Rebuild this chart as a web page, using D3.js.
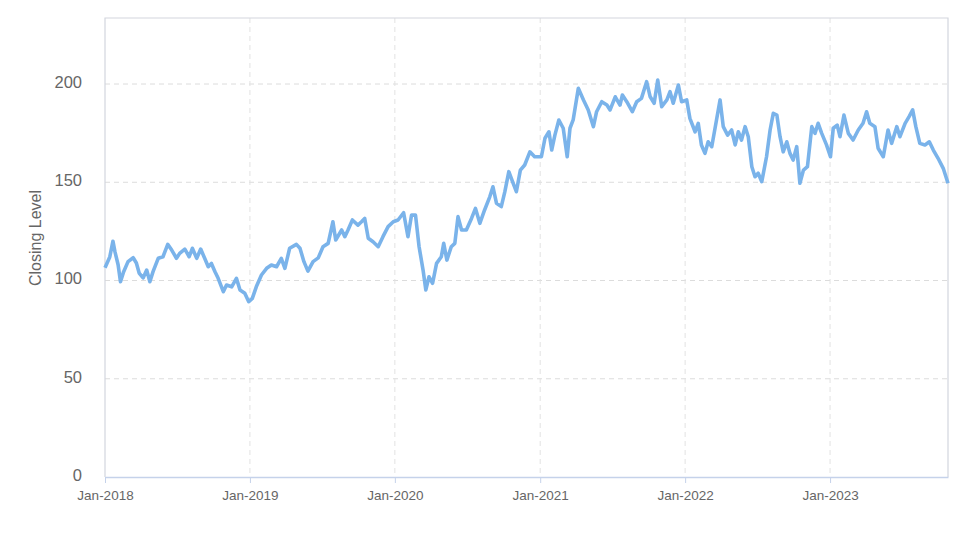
<!DOCTYPE html>
<html><head><meta charset="utf-8">
<script src="https://cdn.jsdelivr.net/npm/d3@7"></script>
<style>
html,body{margin:0;padding:0;background:#fff;}
svg{display:block;font-family:"Liberation Sans",Arial,sans-serif;}
</style></head>
<body>
<svg id="chart" width="974" height="547"></svg>
<script>
const dates = [
"2018-01-01","2018-01-13","2018-01-21","2018-01-26","2018-02-03","2018-02-09","2018-02-17","2018-02-28","2018-03-13","2018-03-21","2018-03-28","2018-04-07","2018-04-16","2018-04-24","2018-05-02","2018-05-15","2018-05-27","2018-06-08","2018-06-18","2018-06-30","2018-07-08","2018-07-21","2018-08-01","2018-08-09","2018-08-20","2018-08-30","2018-09-09","2018-09-18","2018-09-26","2018-10-05","2018-10-13","2018-10-26","2018-11-03","2018-11-16","2018-11-28","2018-12-07","2018-12-19","2018-12-29",
"2019-01-07","2019-01-17","2019-01-30","2019-02-12","2019-02-24","2019-03-09","2019-03-21","2019-03-30","2019-04-11","2019-04-28","2019-05-07","2019-05-17","2019-05-27","2019-06-09","2019-06-22","2019-07-04","2019-07-17","2019-07-29","2019-08-05","2019-08-20","2019-08-28","2019-09-05","2019-09-16","2019-09-30","2019-10-09","2019-10-17","2019-10-26","2019-11-07","2019-11-20","2019-12-02","2019-12-15","2019-12-28",
"2020-01-09","2020-01-23","2020-02-03","2020-02-12","2020-02-22","2020-03-02","2020-03-12","2020-03-19","2020-03-27","2020-04-05","2020-04-15","2020-04-27","2020-05-03","2020-05-11","2020-05-22","2020-05-31","2020-06-08","2020-06-17","2020-06-29","2020-07-12","2020-07-22","2020-08-02","2020-08-14","2020-08-27","2020-09-04","2020-09-13","2020-09-25","2020-10-04","2020-10-14","2020-10-25","2020-11-02","2020-11-12","2020-11-23","2020-12-06","2020-12-18",
"2021-01-04","2021-01-13","2021-01-23","2021-01-30","2021-02-07","2021-02-17","2021-02-28","2021-03-10","2021-03-17","2021-03-25","2021-04-07","2021-04-20","2021-05-02","2021-05-15","2021-05-23","2021-06-05","2021-06-18","2021-06-26","2021-07-09","2021-07-21","2021-07-27","2021-08-07","2021-08-21","2021-09-01","2021-09-13","2021-09-26","2021-10-05","2021-10-15","2021-10-24","2021-11-03","2021-11-16","2021-11-24","2021-12-02","2021-12-15","2021-12-23",
"2022-01-05","2022-01-13","2022-01-26","2022-02-03","2022-02-11","2022-02-20","2022-02-28","2022-03-09","2022-03-21","2022-03-30","2022-04-07","2022-04-18","2022-04-28","2022-05-07","2022-05-15","2022-05-23","2022-06-01","2022-06-09","2022-06-18","2022-06-26","2022-07-04","2022-07-13","2022-07-25","2022-08-03","2022-08-11","2022-08-20","2022-08-28","2022-09-05","2022-09-14","2022-09-22","2022-09-30","2022-10-09","2022-10-17","2022-10-26","2022-11-05","2022-11-16","2022-11-24","2022-12-02","2022-12-11","2022-12-23",
"2023-01-02","2023-01-09","2023-01-19","2023-01-26","2023-02-05","2023-02-16","2023-02-28","2023-03-13","2023-03-25","2023-04-03","2023-04-11","2023-04-24","2023-05-02","2023-05-15","2023-05-27","2023-06-05","2023-06-18","2023-06-26","2023-07-09","2023-07-19","2023-07-28","2023-08-05","2023-08-15","2023-08-28","2023-09-08","2023-09-18","2023-09-30","2023-10-13","2023-10-25"
];
const closes = [
106.5,112,120,114.7,108,99.4,104.5,109.6,111.6,108.9,103.8,101.3,105.3,99.4,104.5,111.3,112.1,118.4,115.5,111.3,113.8,116,112.1,116.4,111.3,116,111.3,107,108.7,104.5,101.1,94.3,97.7,96.8,101.1,95.2,93.5,89.2,
90.9,96.8,102.8,106.2,107.9,107,111.3,106.2,116.4,118.4,116.4,109.6,104.8,109.6,111.5,117.2,118.9,129.9,120.6,125.7,122.3,125.7,130.8,128.2,129.9,131.6,121.5,119.7,117.2,122.3,127.4,129.9,
130.8,134.5,122.3,133.3,133.3,117.2,105.3,95.2,101.9,98.6,108.7,112.1,118.9,110.4,117.2,118.9,132.5,125.7,125.7,131.6,136.7,129.1,135.9,142.6,147.7,139.3,137.6,145.2,155.4,149.4,145.2,156.2,158.8,165.5,163,
163,172.4,175.7,166.4,174,181.7,177.5,163,177.5,181.7,197.8,191.9,186.8,178.3,185.9,191,189.3,186.8,193.5,189.3,194.4,191,185.9,191,192.7,201.2,193.5,190.2,202,188.5,191.9,196.1,190.2,199.5,191,
191.9,182.5,175.7,180,169,164.7,170.6,168.1,181.7,191.9,178.3,174,176.6,169,175.7,171.5,178.3,173.2,157.9,152.8,154.6,150.3,163,176.6,185.1,184.2,173.2,165.5,170.6,164.7,161.3,168.1,149.5,156.2,157.9,178.3,174.9,180,174.9,169,
163,177.5,179.1,173.2,184.2,174.9,171.5,176.6,180,185.9,180,178.3,167.3,163,176.6,169.8,178.3,173.2,180,183.4,186.8,178.3,169.8,169,170.6,166.4,162.2,157.1,149.5
];
const yTicks = [0, 50, 100, 150, 200];
const xTickYears = [2018, 2019, 2020, 2021, 2022, 2023];
const yLabel = "Closing Level";

const parse = d3.timeParse("%Y-%m-%d");
const data = dates.map((d, i) => ({date: parse(d), value: closes[i]}));

const svg = d3.select("#chart");
const L = 105, R = 948, T = 18, B = 477;

const x = d3.scaleTime().domain(d3.extent(data, d => d.date)).range([L, R]);
const y = d3.scaleLinear().domain([0, 233.6]).range([B, T]);

// horizontal gridlines
svg.append("g").selectAll("line").data(yTicks.filter(v => v > 0)).join("line")
  .attr("x1", L).attr("x2", R)
  .attr("y1", d => y(d)).attr("y2", d => y(d))
  .attr("stroke", "#dcdcdc").attr("stroke-dasharray", "5,4").attr("stroke-width", 1);

// vertical gridlines
const xTicks = xTickYears.map(yr => new Date(yr, 0, 1));
svg.append("g").selectAll("line").data(xTicks.slice(1)).join("line")
  .attr("x1", d => x(d)).attr("x2", d => x(d))
  .attr("y1", T).attr("y2", B)
  .attr("stroke", "#e2e2e2").attr("stroke-dasharray", "5,4").attr("stroke-width", 1);

// frame
svg.append("path")
  .attr("d", `M${L},${B}V${T}H${R}V${B}`)
  .attr("fill", "none").attr("stroke", "#d3d6de").attr("stroke-width", 1.2);

// x axis
const xAxis = d3.axisBottom(x).tickValues(xTicks).tickFormat(d3.timeFormat("%b-%Y")).tickSize(6).tickSizeOuter(0);
const gx = svg.append("g").attr("transform", `translate(0,${B})`).call(xAxis);
gx.select(".domain").attr("stroke", "#c5d2ea").attr("stroke-width", 1.5);
gx.selectAll(".tick line").attr("stroke", "#c5d2ea");
gx.selectAll(".tick text").attr("fill", "#666").attr("font-size", 13.5).attr("dy", "1.05em")
  .attr("font-family", "'Liberation Sans', Arial, sans-serif");

// y axis
const yAxis = d3.axisLeft(y).tickValues(yTicks).tickSize(0).tickPadding(23);
const gy = svg.append("g").attr("transform", `translate(${L},0)`).call(yAxis);
gy.select(".domain").remove();
gy.selectAll(".tick text").attr("fill", "#666").attr("font-size", 16.5).attr("dy", "0.2em")
  .attr("font-family", "'Liberation Sans', Arial, sans-serif");

// y label
svg.append("text")
  .attr("transform", `translate(41,238) rotate(-90)`)
  .attr("text-anchor", "middle")
  .attr("fill", "#666").attr("font-size", 16)
  .text(yLabel);

// line
const line = d3.line().x(d => x(d.date)).y(d => y(d.value)).curve(d3.curveLinear);
svg.append("path").datum(data)
  .attr("d", line)
  .attr("fill", "none")
  .attr("stroke", "#7ab3ea")
  .attr("stroke-width", 3.6)
  .attr("stroke-linejoin", "round");
</script>
</body></html>
